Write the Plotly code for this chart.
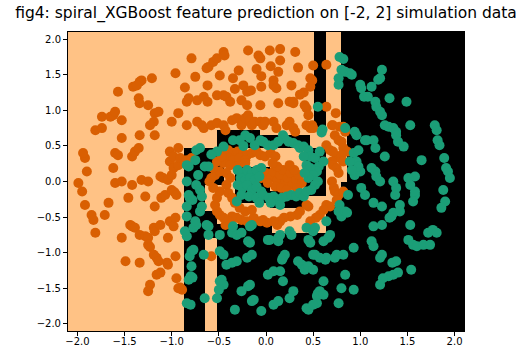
import plotly.graph_objects as go

# ---- model prediction regions (class 1 = teal arm), as axis-aligned boxes [x0, x1, y0, y1]
pred_class1_boxes = [
    [0.51, 0.64, 0.77, 2.1],
    [0.86, 2.1, -2.1, 2.1],
    [0.80, 0.86, 0.82, 2.1],
    [0.80, 0.86, -2.1, 0.0],
    [-0.52, 0.80, -2.1, -0.72],
    [0.64, 0.80, -0.72, -0.33],
    [-0.87, -0.65, -2.1, 0.47],
    [-0.65, -0.52, -0.79, -0.42],
    [-0.52, 0.06, -0.72, -0.60],
    [-0.52, -0.06, 0.47, 0.72],
    [-0.06, 0.47, 0.47, 0.65],
    [-0.65, -0.45, -0.05, 0.47],
    [-0.33, 0.04, -0.30, 0.21],
    [0.04, 0.40, -0.37, -0.14],
    [0.40, 0.64, -0.20, 0.47],
]
grid_lo, grid_hi = -2.1, 2.1

# ---- class 0 samples (orange spiral arm)
class0 = [
    (-0.79, 1.73), (-0.61, 1.61), (-0.56, 1.68), (-0.52, 1.73), (-0.45, 1.82), (-0.44, 1.77),
    (-0.63, 1.59), (-0.29, 1.56), (-0.19, 1.84), (-0.08, 1.77), (-0.06, 1.73), (0.04, 1.84),
    (0.15, 1.86), (0.31, 1.82), (0.15, 1.70), (0.13, 1.54), (0.50, 1.63), (0.64, 1.64),
    (0.47, 1.45), (0.08, 1.42), (-0.05, 1.33), (0.08, 1.35), (0.11, 1.31), (-0.24, 1.35),
    (-0.20, 1.26), (-0.16, 1.28), (-0.49, 1.49), (-0.75, 1.47), (-0.86, 1.32), (-0.96, 1.52),
    (-1.21, 1.45), (-1.32, 1.42), (-1.34, 1.40), (-1.41, 1.33), (-1.37, 1.35), (-1.57, 1.26),
    (-1.35, 1.17), (-1.34, 1.10), (-1.25, 1.07), (-1.18, 0.96), (-1.14, 0.98), (-1.19, 0.84),
    (-0.93, 0.96), (-1.00, 0.84), (-0.73, 1.14), (-0.84, 1.12), (-0.82, 1.17), (-0.66, 1.19),
    (-0.62, 1.12), (-0.52, 1.21), (-0.45, 1.21), (-0.42, 1.19), (-0.38, 1.12), (-0.26, 1.14),
    (-0.20, 1.07), (-0.06, 1.07), (0.13, 1.10), (0.25, 1.12), (0.29, 1.12), (0.41, 1.07),
    (0.43, 1.03), (0.45, 0.93), (0.64, 1.05), (0.74, 0.96), (-0.10, 1.58), (0.34, 1.60),
    (0.27, 1.35), (0.40, 1.25), (-0.33, 1.30), (-0.62, 1.35), (-0.05, 1.48), (0.05, 1.62),
    (-0.35, 1.45), (0.36, 1.22), (0.49, 1.42), (0.47, 1.33), (0.29, 1.10), (0.49, 0.79),
    (0.70, 0.79),
    (-1.99, -0.02), (-1.95, -0.14), (-1.92, 0.33), (-1.94, 0.40), (-1.90, 0.14), (-1.92, -0.33),
    (-1.85, -0.47), (-1.83, -0.54), (-1.81, -0.72), (-1.81, 0.72), (-1.74, 0.75), (-1.74, 0.91),
    (-1.65, 0.91), (-1.62, 0.93), (-1.60, 0.98), (-1.53, 0.86), (-1.53, 0.61), (-1.60, 0.40),
    (-1.57, 0.37), (-1.62, 0.19), (-1.60, -0.02), (-1.53, 0.00), (-1.67, -0.30), (-1.71, -0.47),
    (-1.42, 0.35), (-1.39, 0.42), (-1.35, 0.47), (-1.44, -0.61), (-1.42, -0.63), (-1.39, -0.65),
    (-1.34, -0.75), (-1.28, -0.77), (-1.25, -0.79), (-1.25, -0.89), (-1.23, -0.92), (-1.19, -1.03),
    (-1.16, -1.07), (-1.14, -1.12), (-1.12, -1.28), (-1.16, -1.31), (-1.23, -1.45), (-1.25, -1.54),
    (-1.05, -1.14), (-1.04, -1.17), (-0.96, -1.05), (-0.95, -1.36), (-0.93, -1.50), (-0.89, -1.52),
    (-1.34, -1.14), (-1.49, -1.12), (-1.53, -0.79), (-1.19, -0.65), (-1.18, -0.70), (-1.12, -0.61),
    (-1.02, -0.56), (-0.98, -0.63), (-0.96, -0.51), (-1.04, -0.79), (-1.18, -0.35), (-1.11, -0.23),
    (-1.07, -0.19), (-1.00, -0.12), (-0.97, -0.15), (-0.95, -0.19), (-1.12, 0.07), (-1.09, 0.05),
    (-1.04, 0.02), (-1.02, 0.28), (-0.98, 0.19), (-1.00, 0.09), (-1.32, 0.02), (-1.25, 0.00),
    (-1.28, -0.21), (-1.42, -0.05), (-1.46, -0.23), (-1.34, 0.65), (-1.23, 0.79), (-1.18, 0.65),
    (-1.02, 0.42), (-0.98, 0.35), (-0.93, 0.47), (-0.93, 0.23), (-0.91, 0.33), (-0.84, 0.30),
    (-0.79, 0.33), (-0.84, 0.79), (-0.73, 0.84), (-0.68, 0.79), (-0.66, 0.75), (-0.58, 0.79),
    (-0.52, 0.82), (-0.45, 0.79), (-0.43, 0.72), (-0.36, 0.86), (-0.31, 0.89), (-0.26, 0.79),
    (-0.24, 0.84), (-0.22, 0.89), (-0.19, 0.93), (-0.17, 0.86), (-0.15, 0.79), (-0.12, 0.84),
    (-0.06, 0.84), (-0.03, 0.79), (-0.01, 0.84), (0.08, 0.84), (0.11, 0.75), (0.22, 0.79),
    (0.25, 0.84), (0.29, 0.75), (0.31, 0.70), (0.43, 0.79), (0.47, 0.75), (0.50, 0.75),
    (0.71, 0.79), (0.78, 0.77), (0.82, 0.77), (0.84, 0.70), (0.73, 0.65), (0.77, 0.58),
    (0.80, 0.56), (0.82, 0.47), (0.86, 0.42), (0.75, 0.35), (0.78, 0.33), (0.80, 0.37),
    (0.82, 0.28), (0.64, 0.51), (0.68, 0.44), (0.71, 0.42), (0.70, 0.28), (0.71, 0.23),
    (0.75, 0.19), (0.77, 0.12), (0.70, 0.00), (0.72, -0.09), (0.73, -0.14), (0.77, -0.19),
    (0.82, -0.14), (0.75, -0.26), (-0.58, -1.05), (-0.91, -1.49),
    (0.64, -0.33), (0.68, -0.35), (0.61, -0.40), (0.57, -0.47), (0.53, -0.51), (0.47, -0.56),
    (0.45, -0.35), (0.43, -0.33), (0.36, -0.42), (0.33, -0.47), (0.26, -0.49), (0.19, -0.51),
    (0.15, -0.56), (0.12, -0.61), (0.08, -0.56), (0.01, -0.58), (-0.03, -0.54), (-0.06, -0.56),
    (-0.13, -0.51), (-0.20, -0.56), (-0.26, -0.54), (-0.31, -0.51), (-0.36, -0.49), (-0.39, -0.56),
    (-0.43, -0.61), (-0.45, -0.51), (-0.49, -0.47), (-0.52, -0.42), (-0.54, -0.33), (-0.52, -0.23),
    (-0.49, -0.14), (-0.56, -0.09), (-0.60, 0.00), (-0.58, 0.05), (-0.54, 0.09), (-0.49, 0.14),
    (-0.45, 0.42), (-0.40, 0.44), (-0.35, 0.40), (-0.30, 0.42), (-0.24, 0.40), (-0.20, 0.37),
    (-0.15, 0.40), (-0.10, 0.42), (-0.06, 0.37), (-0.01, 0.35), (-0.40, 0.33), (-0.35, 0.30),
    (-0.28, 0.33), (-0.22, 0.30), (-0.45, 0.26), (-0.38, 0.23), (-0.30, 0.21), (-0.52, 0.28),
    (-0.56, 0.19), (-0.42, 0.12), (-0.38, 0.05), (-0.42, -0.05), (-0.40, -0.16), (-0.36, -0.23),
    (-0.33, -0.30), (-0.28, -0.37), (-0.22, -0.42), (-0.15, -0.40), (-0.47, 0.35), (-0.22, 0.26),
    (0.05, 0.40), (0.10, 0.35),
    (0.00, 0.12), (0.05, 0.05), (0.08, 0.14), (0.12, 0.02), (0.15, 0.09), (0.18, 0.16),
    (0.20, -0.02), (0.23, 0.05), (0.26, 0.12), (0.28, -0.05), (0.32, 0.02), (0.35, 0.09),
    (0.10, -0.07), (0.16, -0.09), (0.22, -0.12), (0.02, -0.02), (0.30, 0.16), (0.12, 0.21),
    (0.25, 0.23), (0.38, -0.02), (-0.05, 0.05), (0.07, 0.26), (0.33, -0.09),
]

# ---- class 1 samples (teal spiral arm)
class1 = [
    (0.78, 1.75), (0.82, 1.72), (0.80, 1.57), (0.84, 1.54), (0.89, 1.52), (0.91, 1.50),
    (0.77, 1.45), (0.77, 1.36), (1.23, 1.57), (1.21, 1.45), (1.19, 1.43), (1.00, 1.36),
    (1.01, 1.31), (1.12, 1.33), (1.04, 1.19), (1.08, 1.19), (1.16, 1.12), (1.17, 1.05),
    (1.31, 1.17), (1.49, 1.12), (1.23, 0.93), (1.21, 0.98), (1.26, 0.79), (1.30, 0.77),
    (1.35, 0.75), (1.38, 0.70), (1.53, 0.79), (1.79, 0.79), (1.81, 0.72), (1.38, 0.65),
    (1.40, 0.56), (1.14, 0.58), (1.05, 0.58), (1.16, 0.47), (1.26, 0.35), (1.46, 0.49),
    (1.65, 0.30), (1.82, 0.58), (1.84, 0.51), (1.89, 0.33), (1.91, 0.19), (1.93, 0.14),
    (1.95, 0.05), (1.88, -0.12), (1.90, -0.28), (1.86, -0.37), (1.77, -0.68), (1.72, -0.72),
    (1.81, -0.72), (1.58, 0.07), (1.51, 0.05), (1.53, -0.05), (1.58, -0.19), (1.42, -0.33),
    (1.35, -0.44), (1.33, -0.49), (1.31, -0.51), (1.53, -0.61), (1.51, -0.82), (1.56, -0.89),
    (1.60, -0.91), (1.67, -0.89), (1.74, -0.89), (1.40, -1.28), (1.35, -1.31), (1.30, -1.33),
    (1.24, -1.36), (1.38, -1.12), (1.34, -1.14), (1.21, -1.07), (1.23, -1.03), (1.12, -0.84),
    (1.14, -0.91), (1.23, -0.61), (1.14, -0.63), (1.21, -1.45), (1.54, -1.24), (0.93, -1.52),
    (0.93, -0.93), (1.23, -0.35), (1.14, -0.30), (1.01, -0.09), (1.05, -0.19), (0.94, 0.09),
    (1.00, 0.14), (0.96, 0.28), (0.98, 0.21), (0.93, 0.40), (0.98, 0.44), (1.07, 0.58),
    (0.94, 0.70), (0.96, 0.65), (0.84, 0.75), (0.89, 0.28), (0.91, 0.16), (1.12, 0.19),
    (1.16, 0.14), (1.17, 0.07), (1.21, 0.00), (1.35, 0.00), (1.38, -0.09), (1.37, -0.19),
    (1.58, -0.14), (1.56, -0.28), (1.42, -0.42), (0.87, -0.19), (0.78, -0.33), (0.77, -0.42),
    (0.80, -0.49), (0.84, -0.42), (0.86, -0.44), (0.64, -0.56), (0.68, -0.75), (0.66, -0.79),
    (0.61, -0.84), (0.82, -1.03), (0.75, -1.03), (0.73, -1.07), (0.84, -1.31), (0.77, -1.71),
    (0.61, -1.40), (0.57, -1.54), (0.55, -1.57), (0.54, -1.61), (0.61, -1.59), (0.45, -1.80),
    (0.43, -1.78), (0.54, -1.71), (0.50, -1.73), (0.38, -1.17), (0.41, -1.24), (0.45, -1.19),
    (0.50, -1.24), (0.34, -1.12), (0.63, -1.10), (0.64, -1.07), (0.57, -1.07), (0.50, -1.03),
    (0.52, -1.03), (0.80, -1.50), (0.20, -1.03), (0.18, -1.07), (0.17, -1.10), (0.15, -1.26),
    (0.18, -1.40), (0.08, -1.26), (0.29, -1.54), (0.25, -1.64), (0.13, -1.68), (0.08, -1.73),
    (-0.05, -1.82), (-0.15, -1.68), (-0.13, -1.66), (-0.19, -1.47), (-0.17, -1.45), (-0.33, -1.80),
    (-0.26, -1.54), (0.02, -1.31), (-0.20, -1.07), (-0.31, -1.12), (-0.36, -1.14), (-0.42, -1.17),
    (-0.45, -1.03), (-0.49, -0.98), (-0.15, -1.03), (-0.66, -1.03), (-0.49, -1.40), (-0.45, -1.45),
    (-0.47, -1.38), (-0.50, -1.52), (-0.52, -1.64), (-0.65, -1.64), (-0.82, -1.38), (-0.80, -1.33),
    (-0.78, -1.35), (-0.84, -1.71), (-0.80, -1.73), (-0.79, -1.19), (-0.81, -1.05), (-0.79, -0.98),
    (-0.77, -0.96), (-0.84, -0.77), (-0.86, -0.70), (-0.77, -0.65), (-0.74, -0.61), (-0.75, -0.56),
    (-0.84, -0.49), (-0.84, -0.35), (-0.81, -0.23), (-0.82, -0.19), (-0.84, 0.00), (-0.82, 0.21),
    (-0.84, 0.23), (-0.74, 0.44), (-0.70, 0.47), (-0.65, 0.21), (-0.61, 0.21), (-0.70, -0.12),
    (-0.68, -0.21), (-0.63, -0.61), (-0.61, -0.63), (-0.61, -0.75), (-0.49, -0.75), (-0.36, -0.72),
    (-0.31, -0.75), (-0.26, -0.72), (-0.35, -0.63), (-0.15, -0.61), (-0.17, -0.63), (-0.19, -0.84),
    (-0.17, -0.86), (0.02, -0.82), (0.04, -0.82), (0.13, -0.84), (0.13, -0.79), (0.15, -0.75),
    (0.25, -0.70), (0.27, -0.75), (0.43, -0.65), (0.50, -0.70), (0.52, -0.65), (0.45, -0.82),
    (0.47, -0.86), (0.55, 1.05), (0.59, 0.69),
    (-0.45, 0.49), (-0.35, 0.58), (-0.28, 0.58), (-0.22, 0.65), (-0.17, 0.61), (-0.06, 0.58),
    (-0.03, 0.56), (0.02, 0.51), (0.08, 0.51), (0.18, 0.65), (0.24, 0.56), (0.29, 0.54),
    (0.34, 0.51), (0.36, 0.47), (0.40, 0.49), (0.45, 0.44), (0.47, 0.35), (0.52, 0.33),
    (0.56, 0.21), (0.54, 0.14), (0.61, 0.28), (0.57, 0.42), (0.60, 0.73), (0.20, 0.60),
    (0.13, 0.56), (-0.12, 0.51), (-0.24, 0.50), (-0.52, 0.42), (-0.58, 0.38),
    (0.40, 0.35), (0.43, 0.23), (0.47, 0.19), (0.50, 0.09), (0.45, 0.05), (0.41, 0.12),
    (0.55, 0.00), (0.52, -0.05),
    (-0.30, 0.16), (-0.25, 0.12), (-0.20, 0.16), (-0.15, 0.12), (-0.10, 0.16), (-0.05, 0.19),
    (-0.27, 0.05), (-0.22, 0.02), (-0.17, 0.05), (-0.12, 0.02), (-0.07, 0.07), (-0.30, -0.05),
    (-0.25, -0.09), (-0.20, -0.05), (-0.15, -0.12), (-0.10, -0.07), (-0.05, -0.14), (-0.26, -0.19),
    (-0.18, -0.21), (-0.10, -0.23), (-0.03, -0.19), (-0.31, -0.28),
    (0.03, -0.23), (0.08, -0.21), (0.12, -0.26), (0.17, -0.23), (0.22, -0.21), (0.27, -0.19),
    (0.32, -0.21), (0.36, -0.16), (0.40, -0.21), (0.43, -0.14), (0.48, -0.12), (0.05, -0.30),
    (0.15, -0.33), (-0.07, -0.30),
    (-0.75, 0.30), (-0.72, 0.09), (-0.74, -0.05), (-0.68, -0.35), (-0.70, -0.42), (-0.78, -0.26),
]

tick_vals = [-2.0, -1.5, -1.0, -0.5, 0.0, 0.5, 1.0, 1.5, 2.0]
tick_text = ["\u22122.0", "\u22121.5", "\u22121.0", "\u22120.5", "0.0", "0.5", "1.0", "1.5", "2.0"]
title_text = "fig4: spiral_XGBoost feature prediction on [-2, 2] simulation data"

# build the prediction grid from the box edges
xe = sorted({grid_lo, grid_hi} | {b[0] for b in pred_class1_boxes} | {b[1] for b in pred_class1_boxes})
ye = sorted({grid_lo, grid_hi} | {b[2] for b in pred_class1_boxes} | {b[3] for b in pred_class1_boxes})
z = []
for j in range(len(ye) - 1):
    cy = 0.5 * (ye[j] + ye[j + 1])
    row = []
    for i in range(len(xe) - 1):
        cx = 0.5 * (xe[i] + xe[i + 1])
        inside = any(b[0] <= cx <= b[1] and b[2] <= cy <= b[3] for b in pred_class1_boxes)
        row.append(1 if inside else 0)
    z.append(row)

fig = go.Figure()
fig.add_trace(go.Heatmap(
    x=xe, y=ye, z=z, zmin=0, zmax=1, zsmooth=False, showscale=False,
    colorscale=[[0, "#ffc285"], [1, "#000000"]], hoverinfo="skip",
))
fig.add_trace(go.Scatter(
    x=[p[0] for p in class0], y=[p[1] for p in class0], mode="markers",
    marker=dict(size=10, color="#d95f02", line=dict(width=0)), showlegend=False,
))
fig.add_trace(go.Scatter(
    x=[p[0] for p in class1], y=[p[1] for p in class1], mode="markers",
    marker=dict(size=10, color="#1b9e77", line=dict(width=0)), showlegend=False,
))

axis_common = dict(
    showgrid=False, zeroline=False, showline=True, linecolor="#000000", linewidth=1,
    mirror=True, ticks="outside", ticklen=4, tickwidth=1, tickcolor="#000000", automargin=False,
    tickvals=tick_vals, ticktext=tick_text, tickfont=dict(family="DejaVu Sans", size=10, color="#000000"),
)
fig.update_xaxes(range=[-2.1, 2.1], ticklabelstandoff=-3, **axis_common)
fig.update_yaxes(range=[-2.1, 2.1], **axis_common)

fig.update_layout(
    width=521, height=348,
    margin=dict(l=68, r=57, t=32, b=17, autoexpand=False),
    paper_bgcolor="#ffffff", plot_bgcolor="#ffffff",
    title=dict(text=title_text, x=266 / 521, xanchor="center", y=1 - 13 / 348, yanchor="middle",
               font=dict(family="DejaVu Sans", size=15.5, color="#000000")),
    showlegend=False,
)
fig.write_html("out.html")
